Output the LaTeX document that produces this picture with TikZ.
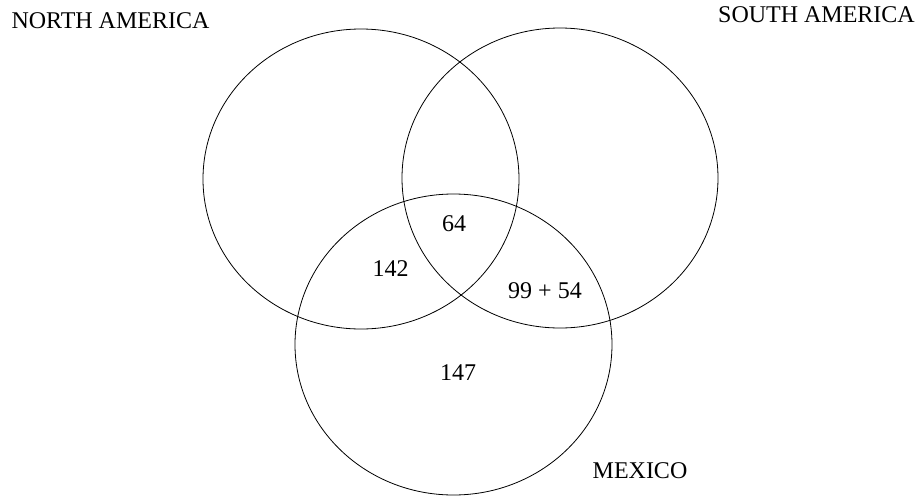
\documentclass[tikz,border=0pt]{standalone}
\usepackage{fontspec}
\setmainfont{Liberation Serif}
\usetikzlibrary{shapes.geometric, positioning}

\begin{document}
\begin{tikzpicture}[x=1pt, y=-1pt,
  region/.style={draw, ellipse, line width=0.8pt, minimum width=316pt,
                 minimum height=300pt, inner sep=0pt, outer sep=0pt},
  setname/.style={anchor=base, inner sep=0pt, font=\fontsize{24}{28}\selectfont},
  count/.style={anchor=base, inner sep=0pt, font=\fontsize{24}{28}\selectfont}
]
  \useasboundingbox (0,0) rectangle (919,496);
  % the three sets
  \node (north) [region] at (361,179) {};
  \node (south) [region] at (560,178) {};
  \node (mexico) [region, minimum width=317pt, minimum height=301pt] at (453.5,344.5) {};

  % set names
  \node (northname) [setname] at (110.5,28) {NORTH AMERICA};
  \node (southname) [setname] at (816.5,22) {SOUTH AMERICA};
  \node (mexiconame) [setname] at (640,478) {MEXICO};

  % region counts
  \node (all) [count] at (454,231) {64};
  \node (nm) [count] at (390.5,276) {142};
  \node (sm) [count] at (545,298) {99 + 54};
  \node (monly) [count] at (458,380) {147};
\end{tikzpicture}
\end{document}
